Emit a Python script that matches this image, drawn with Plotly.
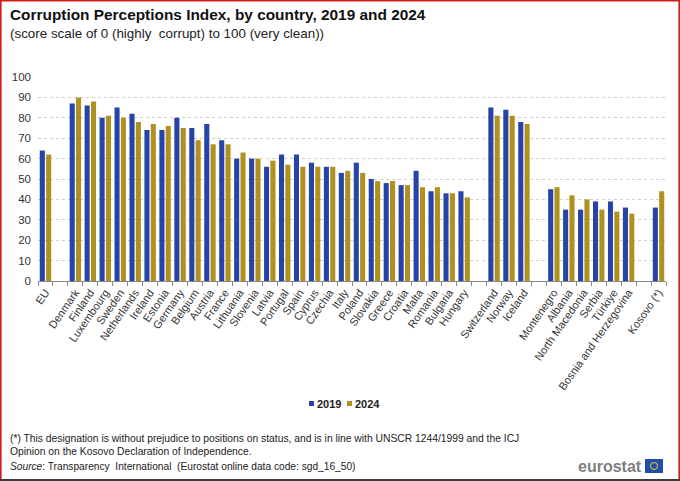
import plotly.graph_objects as go

# blank categories (distinct whitespace) make the gaps between country groups
countries = ['EU', ' ',
             'Denmark', 'Finland', 'Luxembourg', 'Sweden', 'Netherlands', 'Ireland', 'Estonia',
             'Germany', 'Belgium', 'Austria', 'France', 'Lithuania', 'Slovenia', 'Latvia',
             'Portugal', 'Spain', 'Cyprus', 'Czechia', 'Italy', 'Poland', 'Slovakia', 'Greece',
             'Croatia', 'Malta', 'Romania', 'Bulgaria', 'Hungary', '  ',
             'Switzerland', 'Norway', 'Iceland', '   ',
             'Montenegro', 'Albania', 'North Macedonia', 'Serbia', 'Türkiye',
             'Bosnia and Herzegovina', '    ',
             'Kosovo (*)']
score_2019 = [64, None,
              87, 86, 80, 85, 82, 74, 74, 80, 75, 77, 69, 60, 60, 56,
              62, 62, 58, 56, 53, 58, 50, 48, 47, 54, 44, 43, 44, None,
              85, 84, 78, None,
              45, 35, 35, 39, 39, 36, None,
              36]
score_2024 = [62, None,
              90, 88, 81, 80, 78, 77, 76, 75, 69, 67, 67, 63, 60, 59,
              57, 56, 56, 56, 54, 53, 49, 49, 47, 46, 46, 43, 41, None,
              81, 81, 77, None,
              46, 42, 40, 35, 34, 33, None,
              44]
years = ['2019', '2024']
colors = ['#2644A7', '#B09120']

FONT = 'Liberation Sans, Arial, sans-serif'

fig = go.Figure()
for yr, vals, c in zip(years, [score_2019, score_2024], colors):
  fig.add_trace(go.Bar(x=countries, y=vals, name=yr,
                       marker=dict(color=c, line=dict(width=0))))

fig.update_layout(
  width=680, height=481,
  barmode='group', bargap=0.15, bargroupgap=0.2,
  paper_bgcolor='white', plot_bgcolor='white',
  font=dict(family=FONT, size=11, color='#333333'),
  margin=dict(l=38, r=14, t=77, b=200),
  showlegend=False,
  xaxis=dict(type='category', categoryorder='array', categoryarray=countries,
             tickangle=-55, tickfont=dict(size=11, color='#333333'),
             showline=True, linecolor='#888888', linewidth=1,
             ticks='outside', tickson='boundaries', ticklen=4, tickcolor='#888888',
             showgrid=False, fixedrange=True),
  yaxis=dict(range=[0, 100], dtick=10, showgrid=True, gridcolor='#cfcfcf', griddash='dot',
             gridwidth=1, zeroline=False, showline=False,
             tickfont=dict(size=11.5, color='#333333'), ticklabelstandoff=6, fixedrange=True),
)

# titles and notes placed in paper coordinates relative to the plot area
texts = [
  ('<b>Corruption Perceptions Index, by country, 2019 and 2024</b>', 14, 15.4, '#111111'),
  ('(score scale of 0 (highly  corrupt) to 100 (very clean))', 33, 13.4, '#222222'),
  ('(*) This designation is without prejudice to positions on status, and is in line with UNSCR 1244/1999 and the ICJ', 438, 10.3, '#222222'),
  ('Opinion on the Kosovo Declaration of Independence.', 451, 10.3, '#222222'),
  ('<i>Source</i>: Transparency  International  (Eurostat online data code: sgd_16_50)', 466, 10.2, '#222222'),
]
ph = 481 - 77 - 200
pw = 680 - 38 - 14
def py(px_y):
  return (481 - 200 - px_y) / ph
def px(px_x):
  return (px_x - 38) / pw

for t, y, s, c in texts:
  fig.add_annotation(text=t, xref='paper', yref='paper', x=px(8), y=py(y), xanchor='left',
                     yanchor='middle', showarrow=False, font=dict(size=s, color=c, family=FONT))

# compact legend: small square key right next to bold year label
for i, (yr, c) in enumerate(zip(years, colors)):
  x0 = 309 + i * 38
  fig.add_shape(type='rect', xref='paper', yref='paper', x0=px(x0), x1=px(x0 + 5),
                y0=py(406), y1=py(401), fillcolor=c, line=dict(width=0))
  fig.add_annotation(text=f'<b>{yr}</b>', xref='paper', yref='paper', x=px(x0 + 6), y=py(403.5),
                     xanchor='left', yanchor='middle', showarrow=False,
                     font=dict(size=11, color='#222222', family=FONT))

# eurostat logo
fig.add_annotation(text='<b>eurostat</b>', xref='paper', yref='paper', x=px(644), y=py(466),
                   xanchor='right', yanchor='middle', showarrow=False,
                   font=dict(size=16, color='#7f7f7f', family=FONT))
fig.add_shape(type='rect', xref='paper', yref='paper', x0=px(645), x1=px(663), y0=py(473), y1=py(459),
              fillcolor='#1f4fa8', line=dict(width=0))
fig.add_shape(type='circle', xref='paper', yref='paper', x0=px(650.5), x1=px(657.5), y0=py(469.5), y1=py(462.5),
              fillcolor='rgba(0,0,0,0)', line=dict(color='#f2d31b', width=1))

# frame round the picture
fig.add_shape(type='rect', xref='paper', yref='paper', x0=px(0.8), x1=px(679.2), y0=py(480), y1=py(0.8),
              line=dict(color='#cc1a1a', width=1.6), fillcolor='rgba(0,0,0,0)')
fig.add_shape(type='line', xref='paper', yref='paper', x0=px(0), x1=px(680), y0=py(480), y1=py(480),
              line=dict(color='#33403d', width=2))

# page body has an 8px default margin; drop it so the figure fills the window
fig.write_html('out.html', config={'displayModeBar': False},
               post_script="document.body.style.margin='0';document.body.style.overflow='hidden';")
